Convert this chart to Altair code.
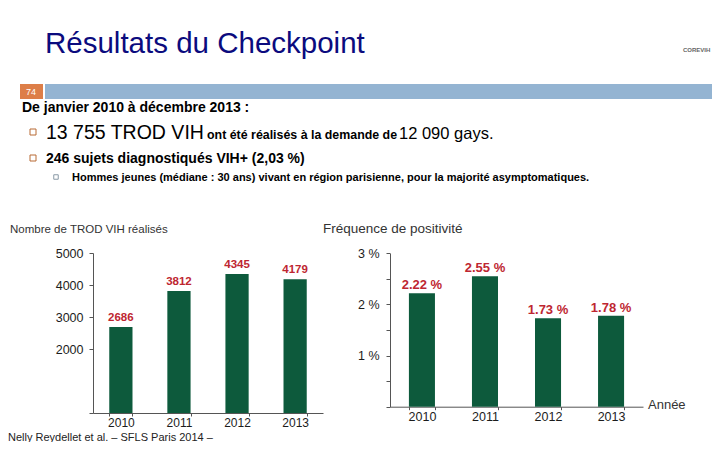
import altair as alt
import pandas as pd

# ---------------- data ----------------
years = ["2010", "2011", "2012", "2013"]
trod_counts = [2686, 3812, 4345, 4179]
positivity = [2.22, 2.55, 1.73, 1.78]
positivity_labels = ["2.22 %", "2.55 %", "1.73 %", "1.78 %"]
left_ticks = [0, 2000, 3000, 4000, 5000]
right_ticks = [0, 0.5, 1, 1.5, 2, 2.5, 3]

title_text = "Résultats du Checkpoint"
slide_number = "74"
intro_text = "De janvier 2010 à décembre 2013 :"
line1_parts = ["13 755 TROD VIH", "ont été réalisés à la demande de", "12 090 gays."]
line2_text = "246 sujets diagnostiqués VIH+ (2,03 %)"
sub_text = "Hommes jeunes (médiane : 30 ans) vivant en région parisienne, pour la majorité asymptomatiques."
left_title = "Nombre de TROD VIH réalisés"
right_title = "Fréquence de positivité"
x_axis_name = "Année"
footer_text = "Nelly Reydellet et al. – SFLS Paris 2014 –"
logo_text = "COREVIH"

FONT = "Liberation Sans"
GREEN = "#0D5A3C"
RED = "#BE2631"
NAVY = "#0B0B7E"
AXIS = "#555555"
TXT = "#1c1c1c"
M = 8  # page margin

one = pd.DataFrame({"k": [0]})


def label(txt, x, y, size, bold=False, color=TXT, align="left"):
    return alt.Chart(pd.DataFrame({"t": [txt]})).mark_text(
        align=align, baseline="alphabetic", fontSize=size,
        fontWeight="bold" if bold else "normal", color=color, font=FONT
    ).encode(text="t:N", x=alt.value(x - M), y=alt.value(y - M))


def box(x1, x2, y1, y2, color):
    return alt.Chart(one).mark_rect(color=color).encode(
        x=alt.value(x1 - M), x2=alt.value(x2 - M), y=alt.value(y1 - M), y2=alt.value(y2 - M)
    )


def bullet(x, y, color, size):
    return alt.Chart(one).mark_point(shape="square", filled=False, color=color, size=size,
                                     strokeWidth=1, opacity=1).encode(
        x=alt.value(x - M), y=alt.value(y - M))


header = [
    label(title_text, 45, 53, 29.5, color=NAVY),
    label(logo_text, 683, 52, 6, bold=True, color="#666666"),
    box(20, 43, 84, 99, "#DD7E48"),
    box(45, 720, 84, 99, "#94B4D2"),
    label(slide_number, 31, 95, 9, color="white", align="center"),
    label(intro_text, 22, 112, 14, bold=True, color="#000000"),
    bullet(33, 132, "#B86A35", 36),
    label(line1_parts[0], 46, 139, 19.5, color="#000000"),
    label(line1_parts[1], 207, 139, 12.4, bold=True, color="#000000"),
    label(line1_parts[2], 399, 139, 16.5, color="#000000"),
    bullet(33, 158, "#B86A35", 36),
    label(line2_text, 46, 163, 14, bold=True, color="#000000"),
    bullet(56, 177, "#8A9AA6", 20),
    label(sub_text, 72, 181, 11, bold=True, color="#000000"),
    label(left_title, 10, 233, 11.5, color="#333333"),
    label(right_title, 323, 233, 13.5, color="#333333"),
    label(x_axis_name, 648, 409, 13, color="#333333"),
    label(footer_text, 8, 440.5, 11, color="#222222"),
]

# ---------------- left chart ----------------
df_left = pd.DataFrame({"year": years, "count": trod_counts})
lx = alt.Scale(domain=years, range=[93 - M, 323 - M], paddingInner=0.6, paddingOuter=0.28)
ly = alt.Scale(domain=[0, 5000], range=[413 - M, 253 - M], nice=False, zero=True)

left_bars = alt.Chart(df_left).mark_bar(color=GREEN).encode(
    x=alt.X("year:N", scale=lx, sort=years, title=None,
            axis=alt.Axis(orient="bottom", offset=-(434 - (413 - M)), labelAngle=0,
                          tickBand="extent", tickSize=3, labelPadding=1,
                          domainColor=AXIS, tickColor=AXIS, labelFont=FONT,
                          labelFontSize=12, labelColor=TXT)),
    y=alt.Y("count:Q", scale=ly, title=None,
            axis=alt.Axis(orient="left", offset=-(93 - M), values=left_ticks, format="d",
                          labelExpr="datum.value == 0 ? '' : datum.label",
                          grid=False, tickSize=4, labelPadding=6,
                          domainColor=AXIS, tickColor=AXIS, labelFont=FONT,
                          labelFontSize=12.5, labelColor=TXT)),
)
left_text = alt.Chart(df_left).mark_text(
    color=RED, fontWeight="bold", fontSize=11.5, font=FONT, baseline="alphabetic", dy=-6
).encode(
    x=alt.X("year:N", scale=lx, sort=years),
    y=alt.Y("count:Q", scale=ly),
    text=alt.Text("count:Q", format="d"),
)
left_chart = alt.layer(left_bars, left_text)

# ---------------- right chart ----------------
df_right = pd.DataFrame({"year": years, "pos": positivity, "lab": positivity_labels})
rx = alt.Scale(domain=years, range=[390 - M, 643 - M], paddingInner=0.587, paddingOuter=0.30)
ry = alt.Scale(domain=[0, 3], range=[406.7 - M, 253.3 - M], nice=False, zero=True)

right_bars = alt.Chart(df_right).mark_bar(color=GREEN).encode(
    x=alt.X("year:N", scale=rx, sort=years, title=None,
            axis=alt.Axis(orient="bottom", offset=-(434 - (406.7 - M)), labelAngle=0,
                          tickBand="extent", tickSize=3, labelPadding=1,
                          domainColor=AXIS, tickColor=AXIS, labelFont=FONT,
                          labelFontSize=12.5, labelColor=TXT)),
    y=alt.Y("pos:Q", scale=ry, title=None,
            axis=alt.Axis(orient="left", offset=-(390 - M), values=right_ticks,
                          labelExpr="datum.value > 0 && datum.value % 1 == 0 ? format(datum.value, 'd') + ' %' : ''",
                          grid=False, tickSize=4, labelPadding=7,
                          domainColor=AXIS, tickColor=AXIS, labelFont=FONT,
                          labelFontSize=12.5, labelColor=TXT)),
)
right_text = alt.Chart(df_right).mark_text(
    color=RED, fontWeight="bold", fontSize=13, font=FONT, baseline="alphabetic", dy=-4
).encode(
    x=alt.X("year:N", scale=rx, sort=years),
    y=alt.Y("pos:Q", scale=ry),
    text="lab:N",
)
right_chart = alt.layer(right_bars, right_text)

chart = alt.layer(*header, left_chart, right_chart).resolve_scale(
    x="independent", y="independent"
).resolve_axis(
    x="independent", y="independent"
).properties(
    width=704, height=434, autosize=alt.AutoSizeParams(type="none"), padding=0,
    background="white"
).configure_view(stroke=None)

chart.save("out.html", embed_options={"renderer": "svg", "actions": False})
